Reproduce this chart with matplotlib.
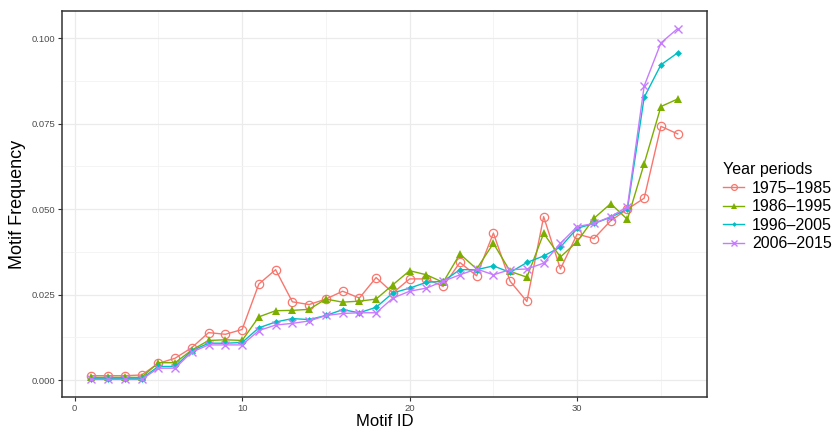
import matplotlib.pyplot as plt
import numpy as np
from matplotlib.ticker import MultipleLocator, FormatStrFormatter

plt.rcParams["font.family"] = ["Liberation Sans", "DejaVu Sans"]

motif_id = np.arange(1, 37)

freq_1975 = [0.0013, 0.0013, 0.0013, 0.0015, 0.0049, 0.0064, 0.0095, 0.0139, 0.0134, 0.0148,
             0.0281, 0.0323, 0.0229, 0.0221, 0.0237, 0.0260, 0.0240, 0.0300, 0.0255, 0.0296,
             0.0296, 0.0274, 0.0344, 0.0305, 0.0430, 0.0289, 0.0230, 0.0478, 0.0325, 0.0427,
             0.0414, 0.0466, 0.0500, 0.0532, 0.0742, 0.0720]
freq_1986 = [0.0008, 0.0008, 0.0008, 0.0008, 0.0051, 0.0051, 0.0088, 0.0116, 0.0118, 0.0116,
             0.0185, 0.0203, 0.0204, 0.0207, 0.0237, 0.0228, 0.0231, 0.0237, 0.0279, 0.0320,
             0.0308, 0.0286, 0.0369, 0.0325, 0.0400, 0.0318, 0.0301, 0.0429, 0.0360, 0.0405,
             0.0473, 0.0516, 0.0470, 0.0633, 0.0800, 0.0822]
freq_1996 = [0.0004, 0.0004, 0.0004, 0.0004, 0.0040, 0.0040, 0.0086, 0.0108, 0.0108, 0.0110,
             0.0153, 0.0170, 0.0180, 0.0177, 0.0189, 0.0206, 0.0197, 0.0213, 0.0255, 0.0269,
             0.0286, 0.0289, 0.0323, 0.0323, 0.0334, 0.0315, 0.0344, 0.0363, 0.0389, 0.0444,
             0.0458, 0.0476, 0.0500, 0.0827, 0.0922, 0.0957]
freq_2006 = [0.0002, 0.0002, 0.0002, 0.0002, 0.0035, 0.0035, 0.0082, 0.0103, 0.0103, 0.0103,
             0.0145, 0.0161, 0.0166, 0.0173, 0.0189, 0.0195, 0.0197, 0.0197, 0.0240, 0.0260,
             0.0269, 0.0289, 0.0308, 0.0325, 0.0308, 0.0323, 0.0325, 0.0342, 0.0400, 0.0449,
             0.0458, 0.0478, 0.0507, 0.0860, 0.0986, 0.1028]

periods = ["1975\u20131985", "1986\u20131995", "1996\u20132005", "2006\u20132015"]
series = [freq_1975, freq_1986, freq_1996, freq_2006]
colors = ["#F8766D", "#7CAE00", "#00BFC4", "#C77CFF"]

fig = plt.figure(figsize=(8.35, 4.32), dpi=100)
ax = fig.add_axes([62 / 835, 1 - 397 / 432, (707 - 62) / 835, (397 - 11) / 432])

# open circles, filled triangles, small dots, crosses
styles = [
    dict(marker="o", markersize=6, markerfacecolor="none", markeredgewidth=0.9),
    dict(marker="^", markersize=6, markeredgewidth=0),
    dict(marker="D", markersize=3.5, markeredgewidth=0),
    dict(marker="x", markersize=6, markeredgewidth=1.0),
]

for vals, lab, col, st in zip(series, periods, colors, styles):
    ax.plot(motif_id, vals, color=col, lw=1.0, label=lab, **st)

# axis limits with 5% padding
allv = np.concatenate([np.array(s) for s in series])
ylo, yhi = allv.min(), allv.max()
pad = (yhi - ylo) * 0.05
ax.set_ylim(ylo - pad, yhi + pad)
xpad = (36 - 1) * 0.05
ax.set_xlim(1 - xpad, 36 + xpad)

ax.xaxis.set_major_locator(MultipleLocator(10))
ax.xaxis.set_minor_locator(MultipleLocator(5))
ax.yaxis.set_major_locator(MultipleLocator(0.025))
ax.yaxis.set_minor_locator(MultipleLocator(0.0125))
ax.yaxis.set_major_formatter(FormatStrFormatter("%.3f"))

ax.grid(which="major", color="#EBEBEB", lw=0.9)
ax.grid(which="minor", color="#F3F3F3", lw=0.6)
ax.set_axisbelow(True)

for sp in ax.spines.values():
    sp.set_color("#333333")
    sp.set_linewidth(1.1)

ax.tick_params(which="major", direction="out", length=3, width=0.8, color="#333333",
               labelsize=6.8, labelcolor="#4D4D4D", pad=2)
ax.tick_params(which="minor", length=0)

ax.set_xlabel("Motif ID", fontsize=12, labelpad=1)
ax.set_ylabel("Motif Frequency", fontsize=13, labelpad=4)

leg = fig.legend(loc="upper left", bbox_to_anchor=(709 / 835, 1 - 148 / 432),
                 title="Year periods", frameon=False, fontsize=11.5, title_fontsize=11.5,
                 handlelength=1.3, handletextpad=0.5, labelspacing=0.22, markerscale=0.7)
leg._legend_box.align = "left"

fig.savefig("out.png", dpi=100)
